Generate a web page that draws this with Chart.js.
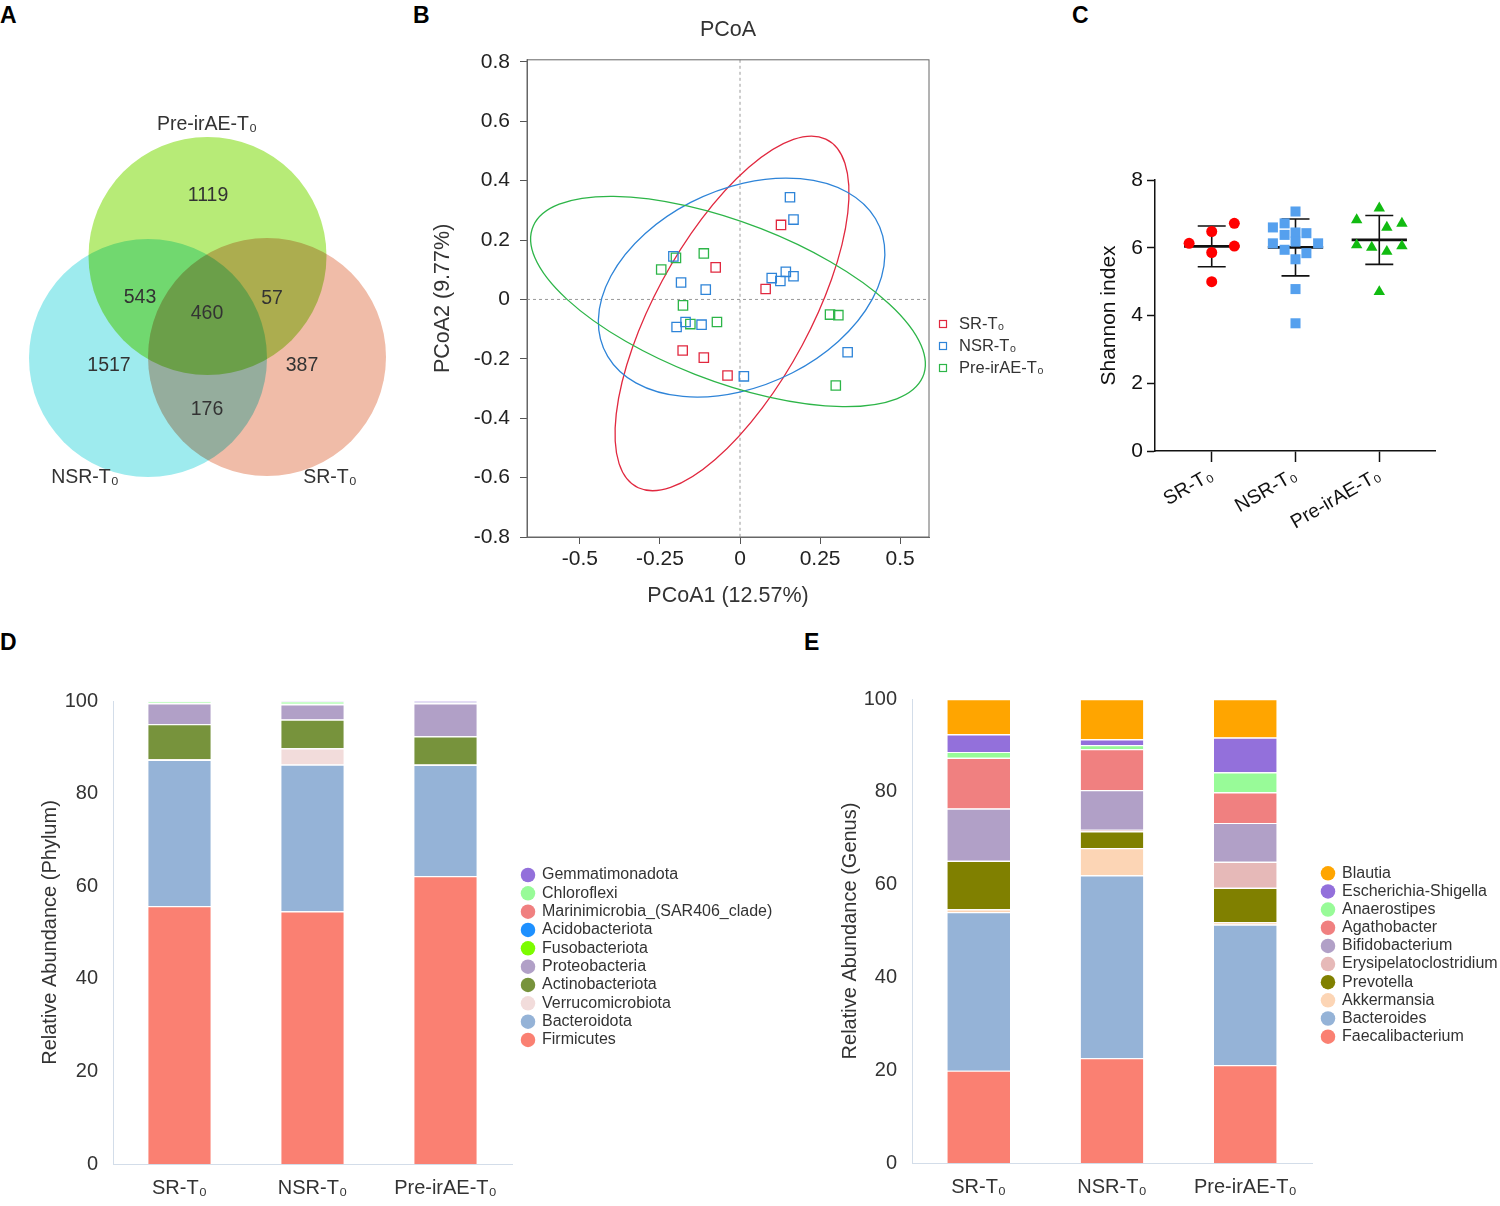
<!DOCTYPE html>
<html>
<head>
<meta charset="utf-8">
<script src="https://cdn.jsdelivr.net/npm/chart.js@4.4.1/dist/chart.umd.min.js"></script>
<style>
  html, body { margin: 0; padding: 0; background: #fff; }
  body { position: relative; width: 1500px; height: 1206px; overflow: hidden; font-family: 'Liberation Sans', Arial, sans-serif; }
  canvas { position: absolute; }
  .tag { position: absolute; font-weight: bold; font-size: 23px; line-height: 26px; color: #000; }
</style>
</head>
<body>
<div class="tag" style="left:0;top:2px">A</div>
<div class="tag" style="left:413px;top:2px">B</div>
<div class="tag" style="left:1072px;top:2px">C</div>
<div class="tag" style="left:0;top:629px">D</div>
<div class="tag" style="left:804px;top:629px">E</div>

<canvas id="venn" style="left:0;top:80px" width="420" height="430"></canvas>
<canvas id="pcoa" style="left:420px;top:0" width="640" height="620"></canvas>
<canvas id="shannon" style="left:1060px;top:140px" width="440" height="420"></canvas>
<canvas id="phylum" style="left:0;top:640px" width="800" height="566"></canvas>
<canvas id="genus" style="left:800px;top:640px" width="700" height="566"></canvas>

<script>
// ---- data ----
const groups = ['SR-T₀', 'NSR-T₀', 'Pre-irAE-T₀'];

// A: Venn, OTU counts per region
const vennGroups = ['Pre-irAE-T₀', 'NSR-T₀', 'SR-T₀'];
const vennRegions = ['Pre only', 'NSR only', 'SR only', 'Pre & NSR', 'Pre & SR', 'NSR & SR', 'all'];
const vennCounts = [1119, 1517, 387, 543, 57, 176, 460];

// B: PCoA coordinates
const srPcoX = [0.128, -0.076, 0.080, -0.179, -0.113, -0.039];
const srPcoY = [0.251, 0.108, 0.035, -0.172, -0.196, -0.256];
const nsrPcoX = [0.156, 0.167, -0.208, -0.184, -0.107, 0.099, 0.126, 0.143, 0.167, -0.198, -0.170, -0.120, 0.012, 0.336];
const nsrPcoY = [0.344, 0.269, 0.145, 0.057, 0.033, 0.072, 0.062, 0.093, 0.078, -0.093, -0.076, -0.085, -0.259, -0.178];
const prePcoX = [-0.200, -0.113, -0.246, -0.178, -0.155, -0.072, 0.281, 0.307, 0.299];
const prePcoY = [0.140, 0.155, 0.101, -0.020, -0.083, -0.076, -0.051, -0.053, -0.290];
// confidence ellipses: centre x, centre y, semi-axes, angle (deg)
const ellCx = [-0.025, 0.005, -0.0375];
const ellCy = [-0.047, 0.040, -0.007];
const ellA = [0.656, 0.478, 0.659];
const ellB = [0.244, 0.328, 0.266];
const ellAngle = [63.5, 29, -22.8];
const pcoXTicks = [-0.5, -0.25, 0, 0.25, 0.5];
const pcoYTicks = [0.8, 0.6, 0.4, 0.2, 0, -0.2, -0.4, -0.6, -0.8];

// C: Shannon index
const srShannon = [6.13, 6.48, 6.72, 5.86, 6.05, 5.00];
const nsrShannon = [7.07, 6.60, 6.72, 6.38, 6.45, 6.43, 6.13, 6.18, 5.94, 5.84, 6.13, 5.66, 4.78, 3.77];
const preShannon = [7.17, 6.82, 6.72, 6.60, 6.08, 6.01, 6.05, 5.89, 4.70];
const shannonMean = [6.04, 6.01, 6.23];
const shannonSd = [0.60, 0.84, 0.72];

// D: phylum relative abundance (bottom to top)
const phyla = ['Firmicutes', 'Bacteroidota', 'Verrucomicrobiota', 'Actinobacteriota', 'Proteobacteria',
  'Fusobacteriota', 'Acidobacteriota', 'Marinimicrobia_(SAR406_clade)', 'Chloroflexi', 'Gemmatimonadota'];
const phylumSR = [55.7, 31.6, 0.1, 7.6, 4.5, 0.05, 0.03, 0.02, 0.35, 0.05];
const phylumNSR = [54.6, 31.7, 3.5, 6.2, 3.3, 0.05, 0.03, 0.02, 0.5, 0.1];
const phylumPre = [62.2, 24.0, 0.1, 6.1, 7.1, 0.05, 0.03, 0.02, 0.1, 0.3];

// E: genus relative abundance (bottom to top)
const genera = ['Faecalibacterium', 'Bacteroides', 'Akkermansia', 'Prevotella', 'Erysipelatoclostridium',
  'Bifidobacterium', 'Agathobacter', 'Anaerostipes', 'Escherichia-Shigella', 'Blautia'];
const genusSR = [19.9, 34.2, 0.6, 10.45, 0, 11.25, 10.95, 1.25, 3.8, 7.6];
const genusNSR = [22.6, 39.4, 5.9, 3.6, 0.3, 8.6, 8.8, 0.9, 1.2, 8.7];
const genusPre = [21.1, 30.3, 0.5, 7.4, 5.6, 8.4, 6.6, 4.3, 7.5, 8.3];

// ---- styles ----
const FONT = "'Liberation Sans', Arial, Helvetica, sans-serif";
const pcoColors = ['#E1283F', '#2E84D8', '#2DB548'];
const vennColors = ['#B7EB77', '#9EEBEE', '#F0BCA8'];
const phylumColors = ['#FA8072', '#95B3D7', '#F2DCDB', '#77933C', '#B1A0C7',
  '#7CFC00', '#1E90FF', '#F08080', '#98FB98', '#9370DB'];
const genusColors = ['#FA8072', '#95B3D7', '#FCD5B5', '#808000', '#E6B9B8',
  '#B1A0C7', '#F08080', '#98FB98', '#9370DB', '#FFA500'];
const paleAxis = '#D3DDE9';

Chart.defaults.font.family = FONT;
Chart.defaults.color = '#222';
Chart.defaults.animation = false;
Chart.defaults.events = [];
Chart.defaults.responsive = false;
Chart.defaults.layout.autoPadding = false;
Chart.defaults.plugins.legend.display = false;
Chart.defaults.plugins.tooltip.enabled = false;

// legend drawn at a fixed spot beside the plot
const sideLegend = {
  id: 'sideLegend',
  afterDraw(chart, args, opts) {
    const ctx = chart.ctx;
    const sets = chart.data.datasets.slice();
    if (opts.reverse) sets.reverse();
    ctx.save();
    ctx.font = opts.font;
    ctx.textBaseline = 'middle';
    ctx.textAlign = 'left';
    sets.forEach((ds, i) => {
      const y = opts.y + i * opts.row;
      if (opts.marker === 'square') {
        ctx.strokeStyle = ds.pointBorderColor;
        ctx.lineWidth = 1.2;
        ctx.strokeRect(opts.x - opts.size / 2, y - opts.size / 2, opts.size, opts.size);
      } else {
        ctx.fillStyle = ds.backgroundColor;
        ctx.beginPath();
        ctx.arc(opts.x, y, opts.size / 2, 0, Math.PI * 2);
        ctx.fill();
      }
      ctx.fillStyle = opts.color;
      ctx.fillText(ds.label, opts.textX, y);
    });
    ctx.restore();
  }
};

// ---- A: Venn ----
const vennLayout = {
  r: 119,
  centers: [[207.5, 256], [148, 358], [267, 357]],
  countPos: [[208, 196], [109, 366], [302, 366], [140, 298], [272, 299], [207, 410], [207, 314]],
  namePos: [[207, 125], [85, 478], [330, 478]]
};

const vennPlugin = {
  id: 'vennPlugin',
  beforeDatasetsDraw(chart) {
    chart.ctx.save();
    chart.ctx.globalCompositeOperation = 'multiply';
  },
  afterDatasetsDraw(chart) {
    const ctx = chart.ctx;
    ctx.restore();
    const xs = chart.scales.x, ys = chart.scales.y;
    ctx.save();
    ctx.fillStyle = '#333';
    ctx.textAlign = 'center';
    ctx.textBaseline = 'middle';
    ctx.font = '19.5px ' + FONT;
    vennCounts.forEach((n, i) => {
      const p = vennLayout.countPos[i];
      ctx.fillText(String(n), xs.getPixelForValue(p[0]), ys.getPixelForValue(p[1]));
    });
    vennGroups.forEach((g, i) => {
      const p = vennLayout.namePos[i];
      ctx.fillText(g, xs.getPixelForValue(p[0]), ys.getPixelForValue(p[1]));
    });
    ctx.restore();
  }
};

new Chart(document.getElementById('venn'), {
  type: 'bubble',
  data: {
    datasets: vennGroups.map((g, i) => ({
      label: g,
      data: [{ x: vennLayout.centers[i][0], y: vennLayout.centers[i][1] }],
      radius: vennLayout.r,
      backgroundColor: vennColors[i],
      borderWidth: 0,
      clip: false
    }))
  },
  plugins: [vennPlugin],
  options: {
    layout: { padding: 0 },
    scales: {
      x: { display: false, min: 0, max: 420 },
      y: { display: false, min: 80, max: 510, reverse: true }
    }
  }
});

// ---- B: PCoA ----
const pcoaDecor = {
  id: 'pcoaDecor',
  beforeDatasetsDraw(chart) {
    const { ctx, chartArea: a } = chart;
    const xs = chart.scales.x, ys = chart.scales.y;
    ctx.save();
    // dashed zero lines
    ctx.strokeStyle = '#9a9a9a';
    ctx.lineWidth = 1;
    ctx.setLineDash([3, 3]);
    const x0 = xs.getPixelForValue(0), y0 = ys.getPixelForValue(0);
    ctx.beginPath();
    ctx.moveTo(x0, a.top); ctx.lineTo(x0, a.bottom);
    ctx.moveTo(a.left, y0); ctx.lineTo(a.right, y0);
    ctx.stroke();
    ctx.setLineDash([]);
    // frame
    ctx.strokeStyle = '#666';
    ctx.strokeRect(a.left, a.top, a.right - a.left, a.bottom - a.top);
    // ellipses, defined in data units
    const kx = xs.getPixelForValue(1) - xs.getPixelForValue(0);
    const ky = ys.getPixelForValue(1) - ys.getPixelForValue(0);
    ellCx.forEach((cx, i) => {
      ctx.save();
      ctx.translate(xs.getPixelForValue(cx), ys.getPixelForValue(ellCy[i]));
      ctx.scale(kx, ky);
      ctx.rotate(ellAngle[i] * Math.PI / 180);
      ctx.beginPath();
      ctx.ellipse(0, 0, ellA[i], ellB[i], 0, 0, Math.PI * 2);
      ctx.restore();
      ctx.strokeStyle = pcoColors[i];
      ctx.lineWidth = 1.3;
      ctx.stroke();
    });
    ctx.restore();
  }
};

const pcoSets = [[srPcoX, srPcoY], [nsrPcoX, nsrPcoY], [prePcoX, prePcoY]];

new Chart(document.getElementById('pcoa'), {
  type: 'scatter',
  data: {
    datasets: pcoSets.map(([xs, ys], i) => ({
      label: groups[i],
      data: xs.map((x, j) => ({ x: x, y: ys[j] })),
      pointStyle: 'rect',
      pointRadius: 6.6,
      pointBorderWidth: 1.3,
      pointBorderColor: pcoColors[i],
      pointBackgroundColor: 'rgba(0,0,0,0)'
    }))
  },
  plugins: [pcoaDecor, sideLegend],
  options: {
    layout: { padding: { left: 0, right: 131, top: 0, bottom: 0 } },
    plugins: {
      title: {
        display: true, text: 'PCoA', color: '#333', fullSize: false,
        font: { size: 21.5, weight: 'normal' },
        padding: { top: 17, bottom: 17 }
      },
      sideLegend: { x: 523, textX: 539, y: 324, row: 22, size: 7, marker: 'square', font: '16.5px ' + FONT, color: '#333' }
    },
    scales: {
      x: {
        type: 'linear', min: -0.665, max: 0.59,
        afterBuildTicks(s) { s.ticks = pcoXTicks.map(v => ({ value: v })); },
        afterFit(s) { s.height = 83; },
        ticks: { callback: v => String(v), font: { size: 21 }, color: '#222', padding: 3, autoSkip: false, maxRotation: 0 },
        grid: { drawOnChartArea: false, drawTicks: true, tickLength: 7, tickColor: '#555' },
        border: { display: true, color: '#666' },
        title: { display: true, text: 'PCoA1 (12.57%)', font: { size: 21.5 }, color: '#333', padding: { top: 0, bottom: 11 } }
      },
      y: {
        type: 'linear', min: -0.8, max: 0.807,
        afterBuildTicks(s) { s.ticks = pcoYTicks.map(v => ({ value: v })); },
        afterFit(s) { s.width = 107; },
        ticks: { callback: v => String(v), font: { size: 21 }, color: '#222', padding: 10, autoSkip: false },
        grid: { drawOnChartArea: false, drawTicks: true, tickLength: 7, tickColor: '#555' },
        border: { display: true, color: '#666' },
        title: { display: true, text: 'PCoA2 (9.77%)', font: { size: 21.5 }, color: '#333', padding: { top: 10, bottom: 0 } }
      }
    }
  }
});

// ---- C: Shannon index ----
const srJitter = [-0.27, 0, 0.27, 0, 0.27, 0];
const nsrJitter = [0, -0.27, -0.13, -0.13, 0, 0.13, -0.27, 0, -0.13, 0.13, 0.27, 0, 0, 0];
const preJitter = [0, -0.27, 0.27, 0.09, -0.27, -0.09, 0.27, 0.09, 0];

const meanSd = {
  id: 'meanSd',
  beforeDatasetsDraw(chart) {
    const ctx = chart.ctx;
    const xs = chart.scales.x, ys = chart.scales.y;
    ctx.save();
    ctx.strokeStyle = '#111';
    shannonMean.forEach((m, i) => {
      const top = ys.getPixelForValue(m + shannonSd[i]);
      const bot = ys.getPixelForValue(m - shannonSd[i]);
      const cx = xs.getPixelForValue(i);
      const capL = xs.getPixelForValue(i - 0.167), capR = xs.getPixelForValue(i + 0.167);
      ctx.lineWidth = 1.6;
      ctx.beginPath();
      ctx.moveTo(cx, top); ctx.lineTo(cx, bot);
      ctx.moveTo(capL, top); ctx.lineTo(capR, top);
      ctx.moveTo(capL, bot); ctx.lineTo(capR, bot);
      ctx.stroke();
      ctx.lineWidth = 2.8;
      const my = ys.getPixelForValue(m);
      ctx.beginPath();
      ctx.moveTo(xs.getPixelForValue(i - 0.33), my);
      ctx.lineTo(xs.getPixelForValue(i + 0.33), my);
      ctx.stroke();
    });
    ctx.restore();
  }
};

new Chart(document.getElementById('shannon'), {
  type: 'scatter',
  data: {
    datasets: [
      { label: groups[0], data: srShannon.map((v, j) => ({ x: 0 + srJitter[j], y: v })),
        pointStyle: 'circle', pointRadius: 5.5, pointBorderWidth: 0, pointBackgroundColor: '#FF0000' },
      { label: groups[1], data: nsrShannon.map((v, j) => ({ x: 1 + nsrJitter[j], y: v })),
        pointStyle: 'rect', pointRadius: 7.1, pointBorderWidth: 0, pointBackgroundColor: '#55A0EE' },
      { label: groups[2], data: preShannon.map((v, j) => ({ x: 2 + preJitter[j], y: v })),
        pointStyle: 'triangle', pointRadius: 6.6, pointBorderWidth: 0, pointBackgroundColor: '#11BB11' }
    ]
  },
  plugins: [meanSd],
  options: {
    layout: { padding: { left: 0, right: 65, top: 40, bottom: 0 } },
    scales: {
      x: {
        type: 'linear', min: -0.677, max: 2.665,
        afterBuildTicks(s) { s.ticks = groups.map((g, i) => ({ value: i })); },
        afterFit(s) { s.height = 109; },
        ticks: { callback: v => groups[v], font: { size: 19.5 }, color: '#111', padding: 2, autoSkip: false, minRotation: 30, maxRotation: 30 },
        grid: { drawOnChartArea: false, drawTicks: true, tickLength: 11, tickColor: '#111', tickWidth: 1.5 },
        border: { display: true, color: '#111', width: 1.5 }
      },
      y: {
        min: 0, max: 8,
        afterFit(s) { s.width = 95; },
        ticks: { stepSize: 2, font: { size: 21 }, color: '#111', padding: 4 },
        grid: { drawOnChartArea: false, drawTicks: true, tickLength: 8, tickColor: '#111', tickWidth: 1.5 },
        border: { display: true, color: '#111', width: 1.5 },
        title: { display: true, text: 'Shannon index', font: { size: 21 }, color: '#111', padding: { top: 37, bottom: 0 } }
      }
    }
  }
});

// ---- D / E: stacked relative abundance ----
function abundanceChart(id, names, colors, sr, nsr, pre, yTitle, box) {
  return new Chart(document.getElementById(id), {
    type: 'bar',
    data: {
      labels: groups,
      datasets: names.map((name, i) => ({
        label: name,
        data: [sr[i], nsr[i], pre[i]],
        backgroundColor: colors[i],
        borderColor: '#ffffff',
        borderWidth: { top: 1.2, bottom: 0, left: 0, right: 0 },
        borderSkipped: false,
        barPercentage: 0.47,
        categoryPercentage: 1
      }))
    },
    plugins: [sideLegend],
    options: {
      layout: { padding: { left: 0, right: box.right, top: box.top, bottom: 0 } },
      plugins: {
        sideLegend: { x: 528, textX: 542, y: box.legendY, row: box.legendRow, size: 14.5, marker: 'circle', reverse: true, font: '16px ' + FONT, color: '#333' }
      },
      scales: {
        x: {
          stacked: true,
          afterFit(s) { s.height = box.xAxis; },
          ticks: { font: { size: 20 }, color: '#333', padding: 12 },
          grid: { display: false, drawTicks: false },
          border: { display: true, color: paleAxis }
        },
        y: {
          stacked: true, min: 0, max: 100,
          afterFit(s) { s.width = box.yAxis; },
          ticks: { stepSize: 20, font: { size: 20 }, color: '#333', padding: 15 },
          grid: { display: false, drawTicks: false },
          border: { display: true, color: paleAxis },
          title: { display: true, text: yTitle, font: { size: 20 }, color: '#333', padding: { top: 38, bottom: 0 } }
        }
      }
    }
  });
}

abundanceChart('phylum', phyla, phylumColors, phylumSR, phylumNSR, phylumPre,
  'Relative Abundance (Phylum)', { top: 61, right: 288, xAxis: 42, yAxis: 113, legendY: 235, legendRow: 18.33 });

abundanceChart('genus', genera, genusColors, genusSR, genusNSR, genusPre,
  'Relative Abundance (Genus)', { top: 59, right: 188, xAxis: 43, yAxis: 112, legendY: 233.3, legendRow: 18.15 });
</script>
</body>
</html>
